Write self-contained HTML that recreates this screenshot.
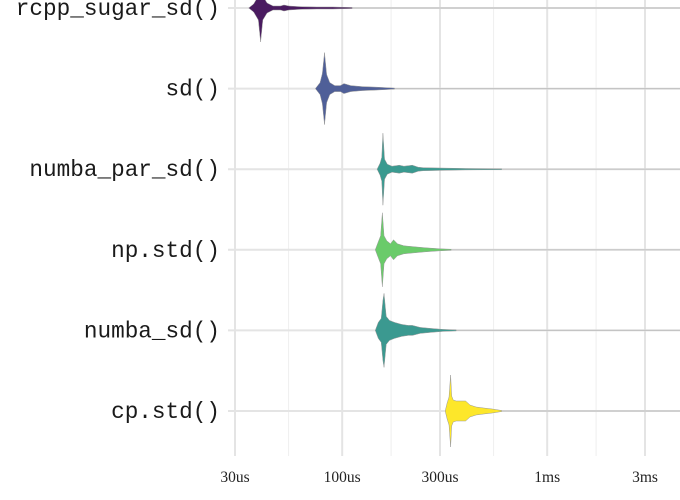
<!DOCTYPE html>
<html><head><meta charset="utf-8"><style>
body{margin:0;background:#fff;}
svg{display:block;}
.lab{font-family:"Liberation Mono",monospace;font-size:22.7px;fill:#1a1a1a;}
.tick{font-family:"Liberation Serif",serif;font-size:15.5px;fill:#222;}
</style></head><body>
<svg id="chart" width="680" height="500"></svg>
<script>
const categories=["rcpp_sugar_sd()","sd()","numba_par_sd()","np.std()","numba_sd()","cp.std()"];
const colors=["#4a1b60","#4f5f98","#3a9a90","#6acb6a","#3b9990","#fde72a"];
const majorTicks=[30,100,300,1000,3000];
const tickLabels=["30us","100us","300us","1ms","3ms"];
const times0=[35,37,39,40,41,43,46,50,52,55,60,65,75,90,112];
const dens0=[0,4,12,34,12,5,2,2,3,2,1.5,1.2,1,1,0.5];
const times1=[74,78,80,82,84,87,92,98,102,110,125,145,162,180];
const dens1=[0,6,15,36,14,6,3,3,5,3,2,1.5,1,0.5];
const times2=[148,153,156,158,161,166,175,190,200,220,235,250,400,600];
const dens2=[0,6,12,36,10,5,3,4,3,4,2,1.5,0.7,0.4];
const times3=[145,150,154,157,160,165,172,178,186,200,225,255,300,340];
const dens3=[0,8,14,37,14,9,6,10,6,4,3,2,1,0.5];
const times4=[145,150,155,158,160,164,170,180,195,210,220,240,270,310,360];
const dens4=[0,8,12,30,37,14,10,8,6,5,5,3,2,1,0.5];
const times5=[318,325,332,338,342,348,360,380,400,420,450,490,540,600];
const dens5=[0,8,14,36,15,11,10,10,10,6,4,3,2,0.5];
const timesAll=[times0,times1,times2,times3,times4,times5];
const densAll=[dens0,dens1,dens2,dens3,dens4,dens5];

const svg=document.getElementById('chart');
const NS='http://www.w3.org/2000/svg';
const X0=235,PPD=205,L30=Math.log10(30);
function xs(v){return X0+(Math.log10(v)-L30)*PPD;}
function ys(i){return 8+i*80.6;}
function mk(tag,attrs){const e=document.createElementNS(NS,tag);for(const k in attrs)e.setAttribute(k,attrs[k]);svg.appendChild(e);return e;}
const panelTop=0,panelBottom=456,panelRight=680;
for(let i=0;i<majorTicks.length;i++){
  const lv=Math.log10(majorTicks[i])+Math.log10(majorTicks[i+1]||majorTicks[i]*10/3);
  const g=mk('line',{x1:xs(Math.pow(10,lv/2)),x2:xs(Math.pow(10,lv/2)),y1:panelTop,y2:panelBottom,stroke:'#eeeeee','stroke-width':1});
  
  
}
majorTicks.forEach((t,i)=>{
  const g=mk('line',{x1:xs(t),x2:xs(t),y1:panelTop,y2:panelBottom,stroke:'#e4e4e4','stroke-width':2});
  
  
  const tx=mk('text',{x:xs(t),y:482,'text-anchor':'middle',class:'tick'});
  tx.textContent=tickLabels[i];
  
  
});
categories.forEach((c,i)=>{
  const y=ys(i);
  const gl=mk('line',{x1:228,x2:panelRight,y1:y,y2:y,stroke:'#e4e4e4','stroke-width':2});
  
  
  const T=timesAll[i],D=densAll[i];
  const tl=mk('line',{x1:xs(T[T.length-1]),x2:panelRight,y1:y,y2:y,stroke:'#c4c4c4','stroke-width':1.2});
  
  
  let d='M'+xs(T[0])+','+y;
  for(let k=0;k<T.length;k++)d+=' L'+xs(T[k])+','+(y-D[k]);
  for(let k=T.length-1;k>=0;k--)d+=' L'+xs(T[k])+','+(y+D[k]);
  d+='Z';
  const p=mk('path',{d:d,fill:colors[i],stroke:'#999','stroke-width':0.5,'stroke-linejoin':'round'});
  
  
  const t=mk('text',{x:220,y:y+7,'text-anchor':'end',class:'lab'});
  t.textContent=c;
  
  
});
</script>
</body></html>
